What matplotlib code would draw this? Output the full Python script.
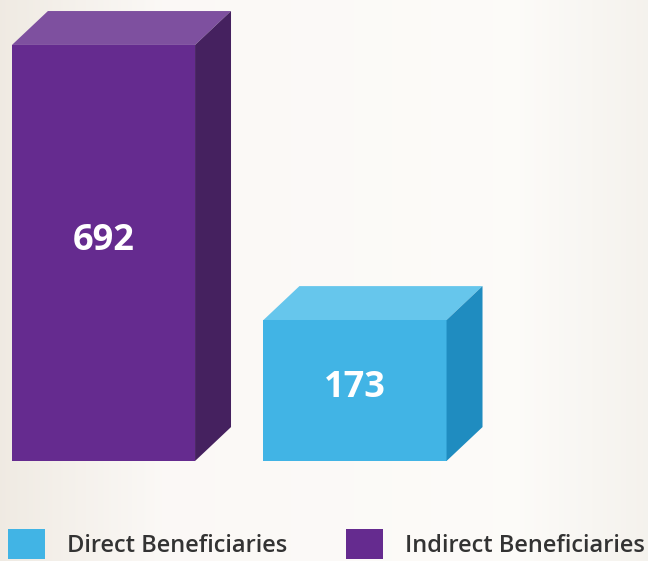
import numpy as np
import matplotlib
matplotlib.use("Agg")
import matplotlib.pyplot as plt
from matplotlib.patches import Polygon, Patch

# ---- data ----
categories = ["Indirect Beneficiaries", "Direct Beneficiaries"]
values = [692, 173]
front_colors = ["#652B8F", "#41B4E5"]
top_colors = ["#7E509F", "#66C6EC"]
side_colors = ["#45215F", "#1F8CC0"]
legend_labels = ["Direct Beneficiaries", "Indirect Beneficiaries"]
legend_colors = ["#41B4E5", "#652B8F"]

BASE = -93          # baseline of the bars
BAR_W = 0.728       # bar width (category units)
DX, DY = 0.143, 64  # 3D depth offsets
LABEL_SHIFT = [22, 5]

fig = plt.figure(figsize=(6.48, 5.61), dpi=100)

# background gradient
bg = fig.add_axes([0, 0, 1, 1], zorder=0)
grad = np.linspace(0, 1, 256)
r = np.interp(grad, [0, 0.25, 0.8, 1], [0.94, 0.985, 0.99, 0.96])
g = np.interp(grad, [0, 0.25, 0.8, 1], [0.92, 0.975, 0.985, 0.95])
b = np.interp(grad, [0, 0.25, 0.8, 1], [0.89, 0.965, 0.975, 0.93])
img = np.stack([r, g, b], axis=-1)[None, :, :].repeat(2, axis=0)
bg.imshow(img, aspect="auto", extent=[0, 1, 0, 1])
bg.axis("off")

ax = fig.add_axes([0, 0, 1, 1], zorder=1)
ax.patch.set_alpha(0)
x = np.arange(len(values))
heights = [v - BASE for v in values]
ax.bar(x, heights, bottom=BASE, width=BAR_W, color=front_colors, zorder=3)

for xi, v, tc, sc, sh in zip(x, values, top_colors, side_colors, LABEL_SHIFT):
    l, rr = xi - BAR_W / 2, xi + BAR_W / 2
    top = Polygon([(l, v), (rr, v), (rr + DX, v + DY), (l + DX, v + DY)],
                  closed=True, facecolor=tc, edgecolor="none", zorder=3)
    side = Polygon([(rr, BASE), (rr + DX, BASE + DY), (rr + DX, v + DY), (rr, v)],
                   closed=True, facecolor=sc, edgecolor="none", zorder=3)
    ax.add_patch(top)
    ax.add_patch(side)
    ax.text(xi, BASE + (v - BASE) * 0.5 + sh, str(v),
            ha="center", va="center", color="white", fontsize=26,
            fontweight="bold", family="Open Sans", zorder=4)

px_per_x = 251.5
ax.set_xlim(-103.5 / px_per_x, (648 - 103.5) / px_per_x)
a = 0.53
ax.set_ylim(BASE - 100 / a, BASE + 461 / a)
ax.axis("off")

handles = [Patch(facecolor=c, edgecolor="none") for c in legend_colors]
leg = fig.legend(handles, legend_labels, loc="center left",
                 bbox_to_anchor=(8 / 648, 1 - 544 / 561), ncol=2,
                 frameon=False, borderpad=0, borderaxespad=0,
                 handlelength=1.57, handleheight=1.57, handletextpad=0.93,
                 columnspacing=2.5,
                 prop={"family": "Open Sans", "size": 17, "weight": "semibold"})
for t in leg.get_texts():
    t.set_color("#333333")

fig.savefig("out.png", dpi=100)
